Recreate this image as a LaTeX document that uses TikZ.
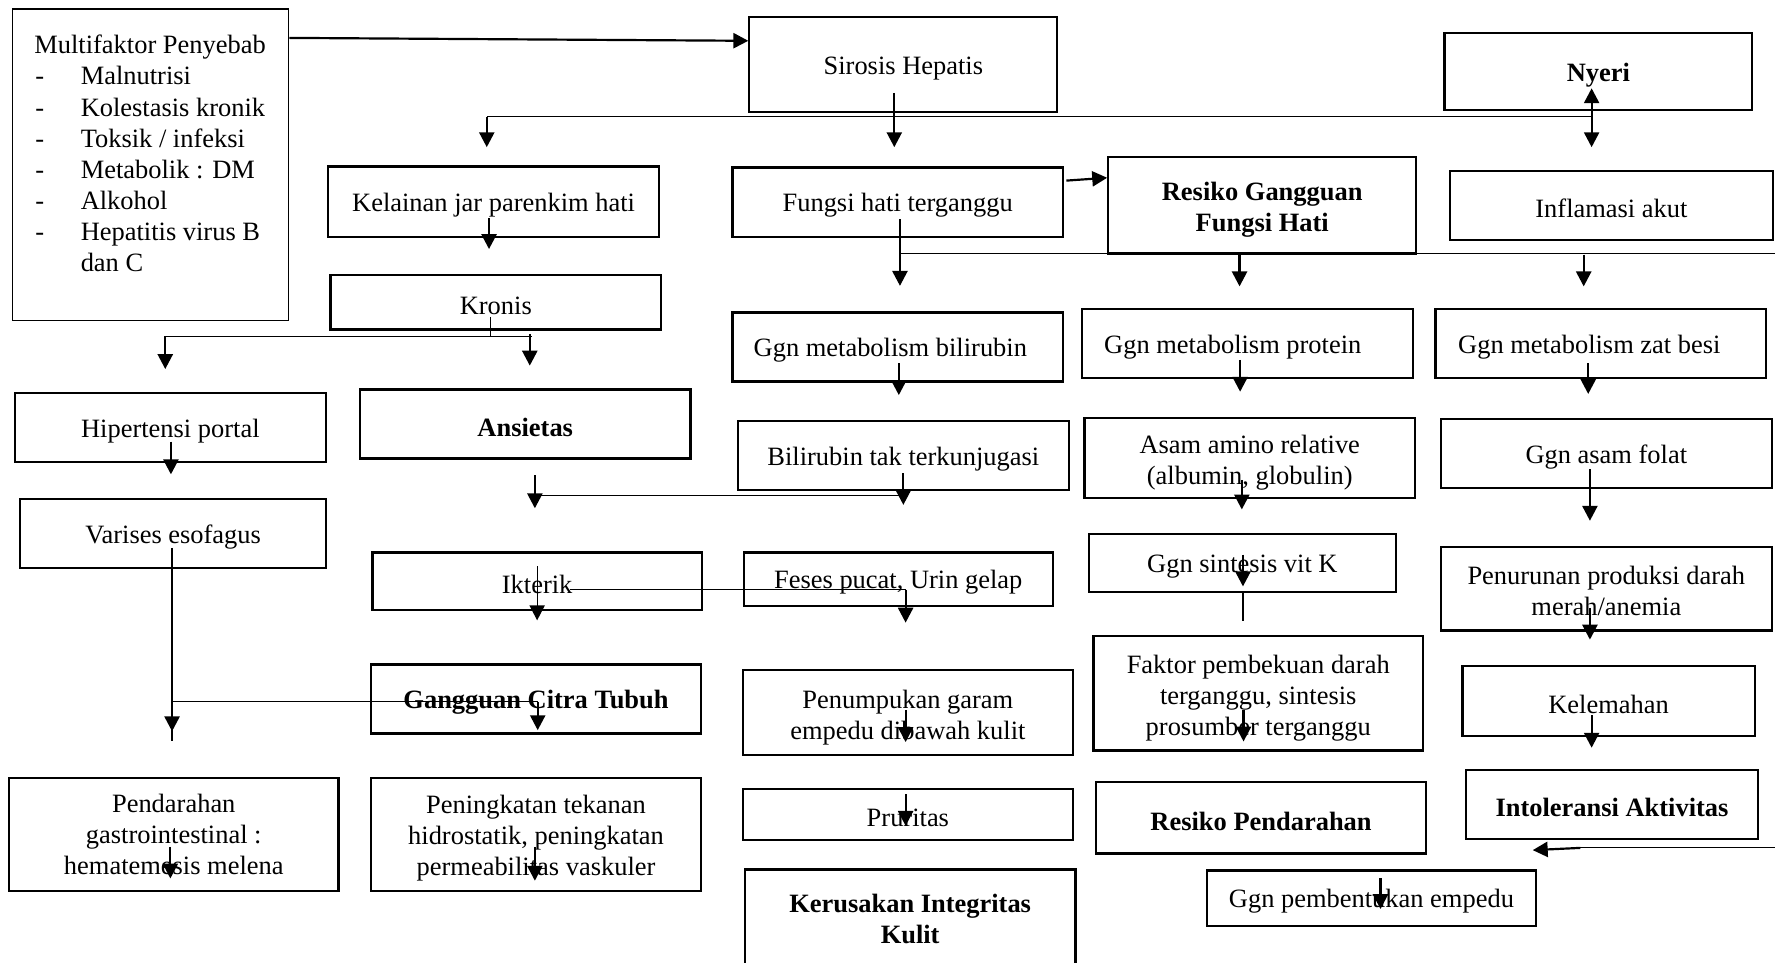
\documentclass[tikz,border=0pt]{standalone}
\usepackage{fontspec}
\setmainfont{Liberation Serif}
\usetikzlibrary{arrows.meta,calc}

\tikzset{
  kotak/.style 2 args={draw, line width=1.1pt, minimum width=#1*0.02cm, minimum height=#2*0.02cm, align=center, inner sep=0pt, execute at begin node={\rule{0pt}{0.95em}}},
  tebal/.style={font=\fontsize{13.3}{15.6}\selectfont\bfseries},
  garis/.style={line width=0.6pt},
  panah/.style={line width=1.1pt, -{Triangle[length=7.5pt,width=7.6pt]}},
  panahdua/.style={line width=1.1pt, {Triangle[length=7.5pt,width=7.6pt]}-{Triangle[length=7.5pt,width=7.6pt]}},
}

\begin{document}
\begin{tikzpicture}[x=0.02cm, y=-0.02cm, font=\fontsize{13.3}{15.6}\selectfont]
\useasboundingbox (0,0) rectangle (1568,850);

% Multifaktor penyebab
\node[kotak={244}{275}, line width=0.6pt] (multi) at (133,145.5) {};
\node[anchor=base west, inner sep=0pt] (judul) at (30,47.5) {Multifaktor Penyebab};
	\foreach \t [count=\i] in {Malnutrisi, Kolestasis kronik, Toksik / infeksi, Metabolik : DM, Alkohol, Hepatitis virus B}{
		\node[anchor=base west, inner sep=0pt] (tanda\i) at (31,47.5+27.5*\i) {-};
		\node[anchor=base west, inner sep=0pt] (sebab\i) at (71,47.5+27.5*\i) {\t};
	}
\node[anchor=base west, inner sep=0pt] (sebab7) at (71,240) {dan C};

% Kotak baris atas
\node[kotak={272}{84}] (sirosis) at (798,57) {Sirosis Hepatis};
\node[kotak={272}{68}, tebal] (nyeri) at (1412,63) {Nyeri};
\node[kotak={292}{62}] (kelainan) at (436,178) {Kelainan jar parenkim hati};
\node[kotak={292}{61}] (fungsi) at (793,178.5) {Fungsi hati terganggu};
\node[kotak={272}{85}, tebal] (resiko) at (1115,181.5) {\rule{0pt}{1.05em}Resiko Gangguan\\Fungsi Hati};
\node[kotak={285}{61}] (inflamasi) at (1423.5,181.5) {Inflamasi akut};
\node[kotak={292}{48}] (kronis) at (438,267) {Kronis};
\node[kotak={292}{61}] (bilirubin) at (793,306.5) {Ggn metabolism bilirubin\hspace*{0.26cm}};
\node[kotak={292}{61}] (protein) at (1102,303.5) {Ggn metabolism protein\hspace*{0.52cm}};
\node[kotak={292}{61}] (besi) at (1414,303.5) {Ggn metabolism zat besi\hspace*{0.4cm}};

% Kotak baris tengah
\node[kotak={275}{61}] (hipertensi) at (150.5,377.5) {Hipertensi portal};
\node[kotak={292}{61}, tebal] (ansietas) at (464,374.5) {Ansietas};
\node[kotak={292}{61}] (takkonj) at (798,402.5) {Bilirubin tak terkunjugasi};
\node[kotak={292}{71}] (amino) at (1104,404.5) {\rule{0pt}{1.05em}Asam amino relative\\(albumin, globulin)};
\node[kotak={292}{61}] (folat) at (1419,400.5) {Ggn asam folat};
\node[kotak={270}{61}] (varises) at (153,471.5) {Varises esofagus};
\node[kotak={291}{51}] (ikterik) at (474.5,513.5) {Ikterik};
\node[kotak={273}{47}] (feses) at (793.5,511.5) {Feses pucat, Urin gelap};
\node[kotak={271}{51}] (vitk) at (1097.5,497.5) {Ggn sintesis vit K};
\node[kotak={292}{74}] (anemia) at (1419,520) {\rule{0pt}{0.9em}Penurunan produksi darah\\merah/anemia};
\node[kotak={291}{101}] (pembekuan) at (1111.5,612.5) {\rule{0pt}{1.05em}Faktor pembekuan darah\\terganggu, sintesis\\prosumber terganggu};
\node[kotak={291}{61}, tebal] (citra) at (473.5,617.5) {Gangguan Citra Tubuh};
\node[kotak={292}{75}] (garam) at (802,629.5) {\rule{0pt}{1.05em}Penumpukan garam\\empedu dibawah kulit};
\node[kotak={258}{62}] (lemah) at (1421,619) {Kelemahan};

% Kotak baris bawah
\node[kotak={291}{100}] (gastro) at (153.5,737) {Pendarahan\\gastrointestinal :\\hematemesis melena};
\node[kotak={291}{100}] (tekanan) at (473.5,737) {\rule{0pt}{1.0em}Peningkatan tekanan\\hidrostatik, peningkatan\\permeabilitas vaskuler};
\node[kotak={292}{45}] (pruritas) at (802,719.5) {Pruritas};
\node[kotak={292}{63}, tebal] (pendarahan) at (1114,722.5) {Resiko Pendarahan};
\node[kotak={258}{61}, tebal] (intoleransi) at (1424,710.5) {Intoleransi Aktivitas};
\node[kotak={292}{88}, tebal] (kulit) at (804,812) {Kerusakan Integritas\\Kulit};
\node[kotak={291}{49}] (empedu) at (1211.5,793.5) {Ggn pembentukan empedu};

% Panah dari sirosis
\draw[panah] ($(multi.north east)+(0,26)$) -- ($(sirosis.north west)+(0,22)$);
\coordinate (atas1) at (430,103);
\coordinate (atas2) at (1406,103);
\draw[garis] (atas1) -- (atas2);
\draw[panah] (atas1) -- ++(0,27);
\draw[panah] ($(sirosis.center)+(-8,25)$) -- ++(0,48);
\draw[panahdua] ($(nyeri.center)+(-6,15)$) -- ++(0,52);

% Panah fungsi hati
\draw[panah] ($(fungsi.center)+(2,15)$) -- ++(0,59);
\draw[panah] ($(fungsi.north east)+(2,12.5)$) -- ($(resiko.north west)+(0,19)$);
\coordinate (tengah1) at (796,224);
\coordinate (tengah2) at (1568,224);
\draw[garis] (tengah1) -- (tengah2);
\draw[panah] ($(resiko.south)+(-20,0)$) -- ++(0,28);
\draw[panah] ($(inflamasi.south)+(-24.5,12)$) -- ++(0,28);

% Kolom kiri
\draw[panah] ($(kelainan.center)+(-4,15)$) -- ++(0,27);
\draw[garis] ($(kronis.center)+(-5,13)$) -- ++(0,17);
\coordinate (kiri1) at (146,297);
\coordinate (kiri2) at (470,297);
\draw[garis] (kiri1) -- (kiri2);
\draw[panah] (kiri1) -- ++(0,29);
\draw[panah] ($(kronis.south)+(30,3)$) -- ++(0,28);
\draw[panah] ($(hipertensi.center)+(0.5,12.5)$) -- ++(0,29);
\draw[garis] ($(varises.center)+(-1,12.5)$) -- ++(0,170.5);
\coordinate (bawah1) at (152,620);
\coordinate (bawah2) at (475,620);
\draw[garis] (bawah1) -- (bawah2);
\draw[panah] (bawah1) -- ++(0,26);
\draw[panah] (bawah2) -- ++(0,25);
\draw[panah] ($(gastro.center)+(-3,11)$) -- ++(0,28);
\draw[panah] ($(tekanan.center)+(-1,11)$) -- ++(0,30);

% Ansietas dan ikterik
\draw[panah] ($(ansietas.south)+(8.5,14)$) -- ++(0,29);
\coordinate (ans1) at (472.5,438);
\coordinate (ans2) at (798,438);
\draw[garis] (ans1) -- (ans2);
\draw[panah, line width=0.6pt] ($(ikterik.center)+(0,-13.5)$) -- ++(0,48);
\coordinate (ikt1) at (503.5,521);
\coordinate (ikt2) at (800,521);
\draw[garis] (ikt1) -- (ikt2);
\draw[panah] (ikt2) -- ++(0,29);

% Kolom bilirubin
\draw[panah] ($(bilirubin.center)+(1,14.5)$) -- ++(0,28);
\draw[panah] ($(takkonj.center)+(0,15.5)$) -- ++(0,28);
\draw[panah] ($(garam.center)+(-2,-2.5)$) -- ++(0,28.5);
\draw[panah] ($(pruritas.center)+(-2,-18)$) -- ++(0,28);

% Kolom protein
\draw[panah] ($(protein.center)+(-6.5,14.5)$) -- ++(0,28);
\draw[panah] ($(amino.center)+(-7,19.5)$) -- ++(0,26);
\draw[panah] ($(vitk.center)+(0.5,-7.5)$) -- ++(0,28);
\draw[garis] ($(vitk.south)+(0.5,0)$) -- ++(0,25);
\draw[panah] ($(pembekuan.center)+(-13,14.5)$) -- ++(0,28);
\draw[panah] ($(empedu.center)+(8,-17.5)$) -- ++(0,27);

% Kolom zat besi
\draw[panah] ($(besi.center)+(-11,17.5)$) -- ++(0,27);
\draw[panah] ($(folat.center)+(-14.5,14)$) -- ++(0,45.5);
\draw[panah] ($(anemia.center)+(-14.5,17)$) -- ++(0,28);
\draw[panah] ($(lemah.center)+(-15,13)$) -- ++(0,28.5);
\coordinate (kanan1) at (1568,749);
\coordinate (kanan2) at (1396,749);
\draw[garis] (kanan1) -- (kanan2);
\draw[panah] (kanan2) -- ($(intoleransi.south)+(-70,9)$);
\end{tikzpicture}
\end{document}
